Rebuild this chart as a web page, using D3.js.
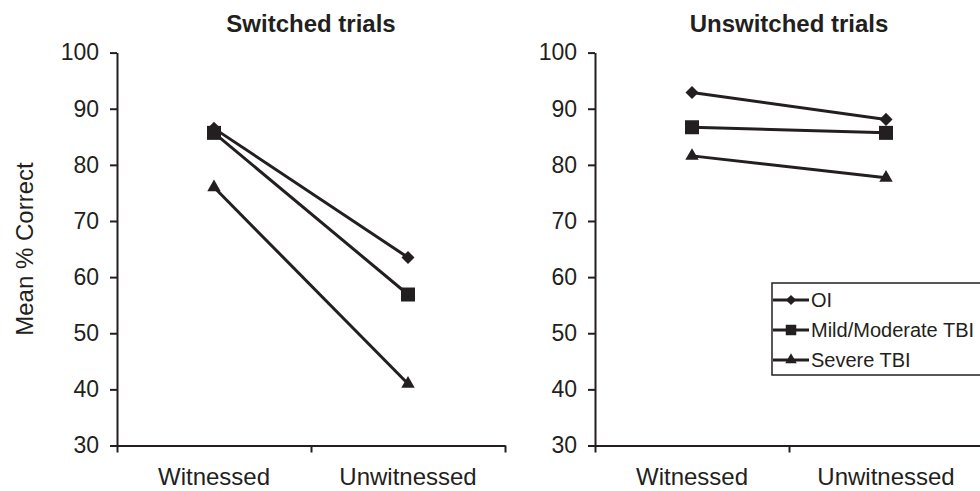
<!DOCTYPE html>
<html>
<head>
<meta charset="utf-8">
<script src="https://cdn.jsdelivr.net/npm/d3@7"></script>
<style>
  body { margin: 0; background: #fff; }
  svg text { font-family: "Liberation Sans", Arial, sans-serif; fill: #231f20; }
</style>
</head>
<body>
<div id="chart"></div>
<script>
const categories = ["Witnessed", "Unwitnessed"];
const groups = ["OI", "Mild/Moderate TBI", "Severe TBI"];
const yTicks = [30, 40, 50, 60, 70, 80, 90, 100];

// Switched trials
const switchedOI = [86.5, 63.5];
const switchedMild = [85.7, 56.9];
const switchedSevere = [76.0, 41.0];

// Unswitched trials
const unswitchedOI = [92.9, 88.1];
const unswitchedMild = [86.7, 85.7];
const unswitchedSevere = [81.6, 77.7];

const panels = [
  { title: "Switched trials", left: 117, series: [switchedOI, switchedMild, switchedSevere] },
  { title: "Unswitched trials", left: 595, series: [unswitchedOI, unswitchedMild, unswitchedSevere] }
];

const width = 980, height = 491;
const plotW = 388;
const plotTop = 52.6, plotBottom = 445.5;
const ink = "#231f20";

const svg = d3.select("#chart")
  .append("svg")
  .attr("width", width)
  .attr("height", height);

const y = d3.scaleLinear().domain([30, 100]).range([plotBottom, plotTop]);

// marker shapes per group: diamond, square, triangle
const markerPath = (i, big) => {
  if (i === 0) return d3.symbol(d3.symbolSquare, big ? 85 : 52)();
  if (i === 1) return d3.symbol(d3.symbolSquare, big ? 196 : 110)();
  return d3.symbol(d3.symbolTriangle, big ? 78 : 58)();
};
const markerRotate = i => (i === 0 ? 45 : 0);

panels.forEach(p => {
  const g = svg.append("g").attr("transform", `translate(${p.left},0)`);

  const x = d3.scaleBand().domain(categories).range([0, plotW]);
  const xEdge = d3.scaleLinear().domain([0, 2]).range([0, plotW]);

  // title
  g.append("text")
    .attr("x", plotW / 2)
    .attr("y", 32)
    .attr("text-anchor", "middle")
    .style("font-size", "24px")
    .style("font-weight", "bold")
    .text(p.title);

  // y axis
  const yAxis = g.append("g")
    .call(d3.axisLeft(y).tickValues(yTicks).tickSize(7).tickSizeOuter(0).tickPadding(11));
  yAxis.select(".domain").attr("stroke", ink).attr("stroke-width", 2);
  yAxis.selectAll(".tick line").attr("stroke", ink).attr("stroke-width", 2);
  yAxis.selectAll(".tick text").style("font-size", "23px").attr("fill", ink);

  // x axis: ticks at band edges, labels at band centres
  const xTicks = g.append("g")
    .attr("transform", `translate(0,${plotBottom})`)
    .call(d3.axisBottom(xEdge).ticks(2).tickSize(7).tickSizeOuter(0).tickFormat(""));
  xTicks.select(".domain").attr("stroke", ink).attr("stroke-width", 2);
  xTicks.selectAll(".tick line").attr("stroke", ink).attr("stroke-width", 2);

  const xLabels = g.append("g")
    .attr("transform", `translate(0,${plotBottom})`)
    .call(d3.axisBottom(x).tickSize(0).tickPadding(22));
  xLabels.select(".domain").remove();
  xLabels.selectAll(".tick text").style("font-size", "24px").attr("fill", ink);

  const cx = c => x(c) + x.bandwidth() / 2;
  const line = d3.line().x((d, i) => cx(categories[i])).y(d => y(d));

  p.series.forEach((vals, si) => {
    g.append("path")
      .datum(vals)
      .attr("d", line)
      .attr("fill", "none")
      .attr("stroke", ink)
      .attr("stroke-width", 3);

    g.selectAll(null)
      .data(vals)
      .join("path")
      .attr("d", markerPath(si, true))
      .attr("transform", (d, i) => `translate(${cx(categories[i])},${y(d)}) rotate(${markerRotate(si)})`)
      .attr("fill", ink);
  });
});

// y label
svg.append("text")
  .attr("transform", `translate(33,${(plotTop + plotBottom) / 2}) rotate(-90)`)
  .attr("text-anchor", "middle")
  .style("font-size", "24px")
  .text("Mean % Correct");

// legend
const legend = svg.append("g").attr("transform", "translate(772,283)");
legend.append("rect")
  .attr("width", 240)
  .attr("height", 92)
  .attr("fill", "#fff")
  .attr("stroke", ink)
  .attr("stroke-width", 1.5);

const item = legend.selectAll(".legend-item")
  .data(groups)
  .join("g")
  .attr("class", "legend-item")
  .attr("transform", (d, i) => `translate(0,${17 + i * 30})`);

item.append("line")
  .attr("x1", 1)
  .attr("x2", 37)
  .attr("stroke", ink)
  .attr("stroke-width", 3);

item.append("path")
  .attr("d", (d, i) => markerPath(i, false))
  .attr("transform", (d, i) => `translate(19,0) rotate(${markerRotate(i)})`)
  .attr("fill", ink);

item.append("text")
  .attr("x", 39)
  .attr("y", 7)
  .style("font-size", "20px")
  .text(d => d);
</script>
</body>
</html>
